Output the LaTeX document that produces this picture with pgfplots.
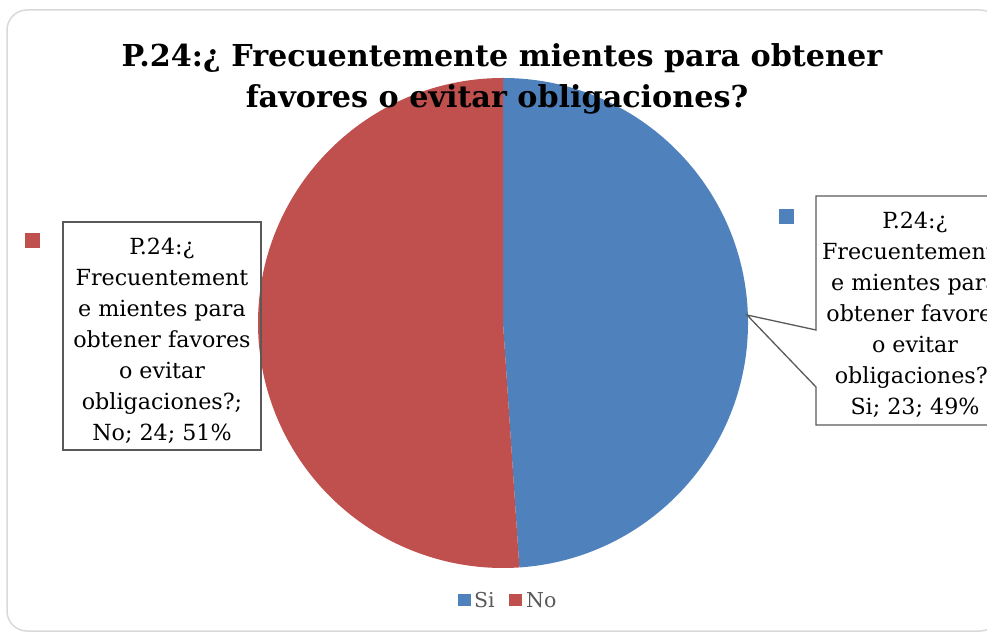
\documentclass[border=0pt]{standalone}
\usepackage{pgfplots}
\usepackage{pgfplotstable}
\pgfplotsset{compat=1.18}
\usepackage{fontspec}
\setmainfont{DejaVu Serif}
\definecolor{siblue}{HTML}{4F81BD}
\definecolor{nored}{HTML}{C0504D}
\definecolor{boxgray}{HTML}{595959}
\definecolor{framegray}{HTML}{D9D9D9}

\pgfplotstableread{
label value
Si 23
No 24
}\piedata

\begin{document}
\begin{tikzpicture}
\pgfplotstablegetelem{0}{value}\of\piedata \let\vSi\pgfplotsretval
\pgfplotstablegetelem{1}{value}\of\piedata \let\vNo\pgfplotsretval
\pgfmathsetmacro\aSi{360*\vSi/(\vSi+\vNo)}
\pgfmathsetmacro\eSi{90-\aSi}
\begin{axis}[
  x=1pt, y=1pt,
  xmin=0, xmax=987, ymin=0, ymax=632,
  hide axis, scale only axis, clip=false,
  anchor=south west, at={(0,0)},
]
% outer frame
\draw[framegray, line width=1.5pt, rounded corners=20pt] (axis cs:7,622) rectangle (axis cs:1000,1);
% pie wedges
\fill[siblue] (axis cs:503,309) -- (axis cs:503,554) arc[start angle=90, end angle=\eSi, radius=245pt] -- cycle;
\fill[nored] (axis cs:503,309) -- (axis cs:503,554) arc[start angle=90, end angle=\eSi+360, radius=245pt] -- cycle;
% title
\node[anchor=base, font=\fontsize{30.2}{36}\selectfont\bfseries] at (axis cs:502,565) {P.24:¿ Frecuentemente mientes para obtener};
\node[anchor=base, font=\fontsize{30.2}{36}\selectfont\bfseries] at (axis cs:497,524) {favores o evitar obligaciones?};
% left callout
\draw[boxgray, line width=1.3pt] (axis cs:63,410) rectangle (axis cs:261,182);
\fill[nored] (axis cs:25,399) rectangle (axis cs:40,384);
\node[align=center, font=\fontsize{22.2}{31}\selectfont, inner sep=0pt] at (axis cs:162,291)
 {P.24:¿\\Frecuentement\\e mientes para\\obtener favores\\o evitar\\obligaciones?;\\No; 24; 51\%};
% right callout
\draw[boxgray, line width=1.3pt] (axis cs:816,436) -- (axis cs:1014,436) -- (axis cs:1014,207) -- (axis cs:816,207) -- (axis cs:816,245) -- (axis cs:747,317) -- (axis cs:816,302) -- cycle;
\fill[siblue] (axis cs:779,423) rectangle (axis cs:794,408);
\node[align=center, font=\fontsize{22.2}{31}\selectfont, inner sep=0pt] at (axis cs:915,317)
 {P.24:¿\\Frecuentemente\\e mientes para\\obtener favores\\o evitar\\obligaciones?;\\Si; 23; 49\%};
% legend
\fill[siblue] (axis cs:458,38) rectangle (axis cs:471,26);
\node[anchor=base west, inner sep=0pt, text=boxgray, font=\fontsize{20.5}{24}\selectfont] at (axis cs:474,25) {Si};
\fill[nored] (axis cs:509,38) rectangle (axis cs:522,26);
\node[anchor=base west, inner sep=0pt, text=boxgray, font=\fontsize{20.5}{24}\selectfont] at (axis cs:526,25) {No};
\end{axis}
\pgfresetboundingbox
\useasboundingbox (0,0) rectangle (987pt,632pt);
\end{tikzpicture}
\end{document}
